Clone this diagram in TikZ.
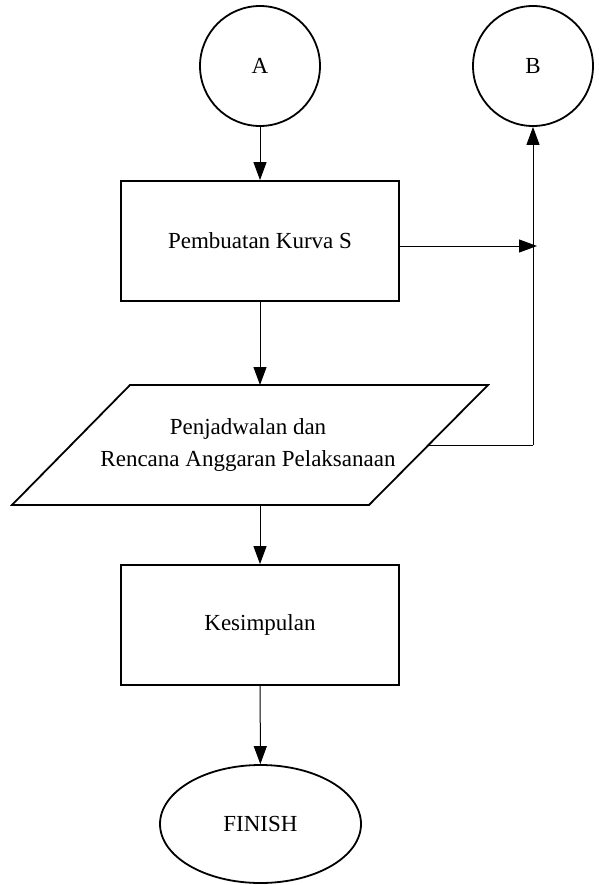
\documentclass[tikz,border=0pt]{standalone}
\usepackage{fontspec}
\setmainfont{Liberation Serif}
\usetikzlibrary{arrows.meta,shapes.geometric}
\begin{document}
\begin{tikzpicture}[x=1pt,y=-1pt,
  every node/.style={font=\fontsize{23}{32}\selectfont},
  shapeline/.style={draw=black,line width=1.8pt},
  connector/.style={draw=black,line width=1pt,-{Triangle[length=18pt,width=13pt]}},
  plainline/.style={draw=black,line width=1pt},
  ]
  \useasboundingbox (0,0) rectangle (598,885);

  % connector circles
  \node[shapeline,circle,minimum size=120pt,inner sep=0pt] (A) at (260,66) {A};
  \node[shapeline,circle,minimum size=120pt,inner sep=0pt] (B) at (533,66) {B};

  % process boxes
  \node[shapeline,rectangle,minimum width=278pt,minimum height=120pt,inner sep=0pt] (kurva) at (260,241) {Pembuatan Kurva S};
  \node[shapeline,rectangle,minimum width=278pt,minimum height=120pt,inner sep=0pt] (kesimpulan) at (260,625) {Kesimpulan};

  % terminator
  \node[shapeline,ellipse,minimum width=201pt,minimum height=118pt,inner sep=0pt] (finish) at (260.5,824) {FINISH};

  % input/output parallelogram
  \coordinate (p1) at (12,505);
  \coordinate (p2) at (130,385);
  \coordinate (p3) at (488,385);
  \coordinate (p4) at (369,505);
  \draw[shapeline,line join=miter] (p1) -- (p2) -- (p3) -- (p4) -- cycle;
  \node[align=center] (jadwal) at (248,445) {Penjadwalan dan\\Rencana Anggaran Pelaksanaan};
  \coordinate (jtop) at (260,385);
  \coordinate (jbot) at (260,505);
  \coordinate (jright) at (428,445);

  % side route towards B
  \coordinate (corner) at (533,445);
  \coordinate (joint) at (537,246);

  % connectors
  \draw[connector] (A) -- (kurva);
  \draw[connector] (kurva.south) -- (jtop);
  \draw[connector] (jbot) -- (kesimpulan.north);
  \draw[connector] (kesimpulan) -- (finish);
  \draw[connector] (kurva.east |- joint) -- (joint);
  \draw[plainline] (jright) -- (corner);
  \draw[connector] (corner) -- (B.south);
\end{tikzpicture}
\end{document}
